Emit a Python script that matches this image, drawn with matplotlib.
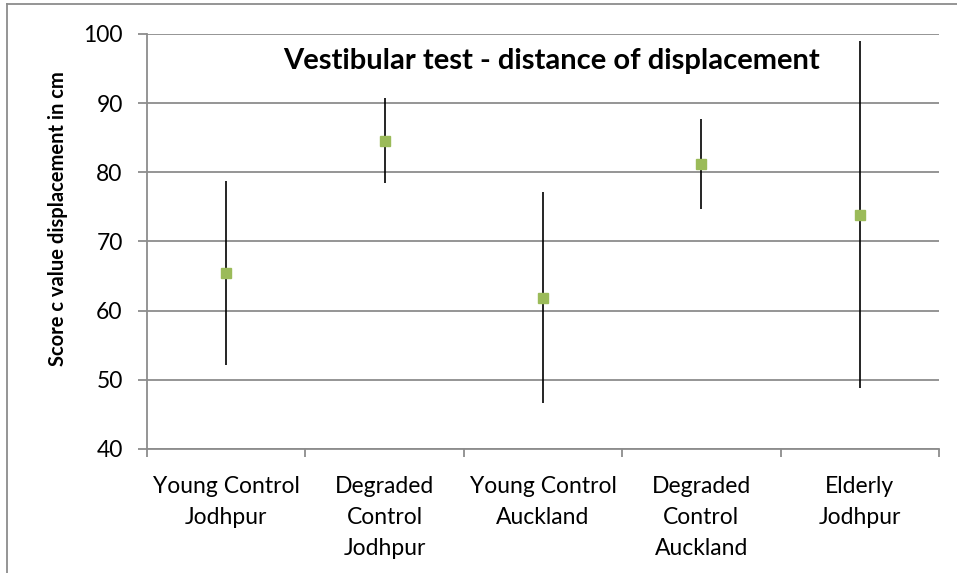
import matplotlib
matplotlib.use("Agg")
import matplotlib.pyplot as plt
from matplotlib.lines import Line2D

# groups on the x axis
groups = ["Young Control\nJodhpur", "Degraded\nControl\nJodhpur", "Young Control\nAuckland",
          "Degraded\nControl\nAuckland", "Elderly\nJodhpur"]
# mean score and the low / high ends of each bar
means = [65.5, 84.6, 61.9, 81.2, 73.9]
lows = [52.2, 78.4, 46.6, 74.7, 48.8]
highs = [78.8, 90.7, 77.1, 87.7, 99.0]
yticks = [40, 50, 60, 70, 80, 90, 100]

plt.rcParams['font.family'] = ['Lato', 'DejaVu Sans']

fig = plt.figure(figsize=(9.57, 5.73), dpi=100)
ax = fig.add_axes([147/957, 1 - 449/573, 792/957, 415/573])

xs = list(range(len(groups)))
err_lo = [m - l for m, l in zip(means, lows)]
err_hi = [h - m for h, m in zip(highs, means)]
ax.errorbar(xs, means, yerr=[err_lo, err_hi], fmt='s', color='#9bbb59',
            ecolor='black', elinewidth=1.2, capsize=0, markersize=7, zorder=3)

grid_col = '#8c8c8c'
ax.set_ylim(40, 100)
ax.set_yticks(yticks)
ax.set_xlim(-0.5, len(groups) - 0.5)
ax.yaxis.grid(True, color=grid_col, linewidth=1.3)
ax.set_axisbelow(True)
for s in ['top', 'right']:
    ax.spines[s].set_visible(False)
for s in ['left', 'bottom']:
    ax.spines[s].set_color(grid_col)
    ax.spines[s].set_linewidth(1.3)

# boundary ticks between groups, labels under each group
ax.set_xticks([i - 0.5 for i in range(len(groups) + 1)])
ax.set_xticklabels([])
ax.set_xticks(xs, minor=True)
ax.set_xticklabels(groups, minor=True, fontsize=16.5, linespacing=1.6)
ax.tick_params(axis='x', which='major', direction='out', length=6, color=grid_col, width=1.3)
ax.tick_params(axis='x', which='minor', length=0, pad=19.5)
ax.tick_params(axis='y', direction='out', length=6.5, color=grid_col, width=1.3,
               labelsize=16.5, pad=11)

fig.text(552/957, 1 - 69/573, "Vestibular test - distance of displacement",
         ha='center', va='baseline', fontsize=21, fontweight='bold')
fig.text(58/957, 1 - 219/573, "Score c value displacement in cm", rotation=90,
         ha='center', va='center', fontsize=14.5, fontweight='bold')

# outer chart frame (left and top edges show)
fig.add_artist(Line2D([7/957, 7/957], [0, 1 - 4/573], color=grid_col, linewidth=1.3))
fig.add_artist(Line2D([7/957, 1], [1 - 4/573, 1 - 4/573], color=grid_col, linewidth=1.3))

fig.savefig("out.png", dpi=100)
